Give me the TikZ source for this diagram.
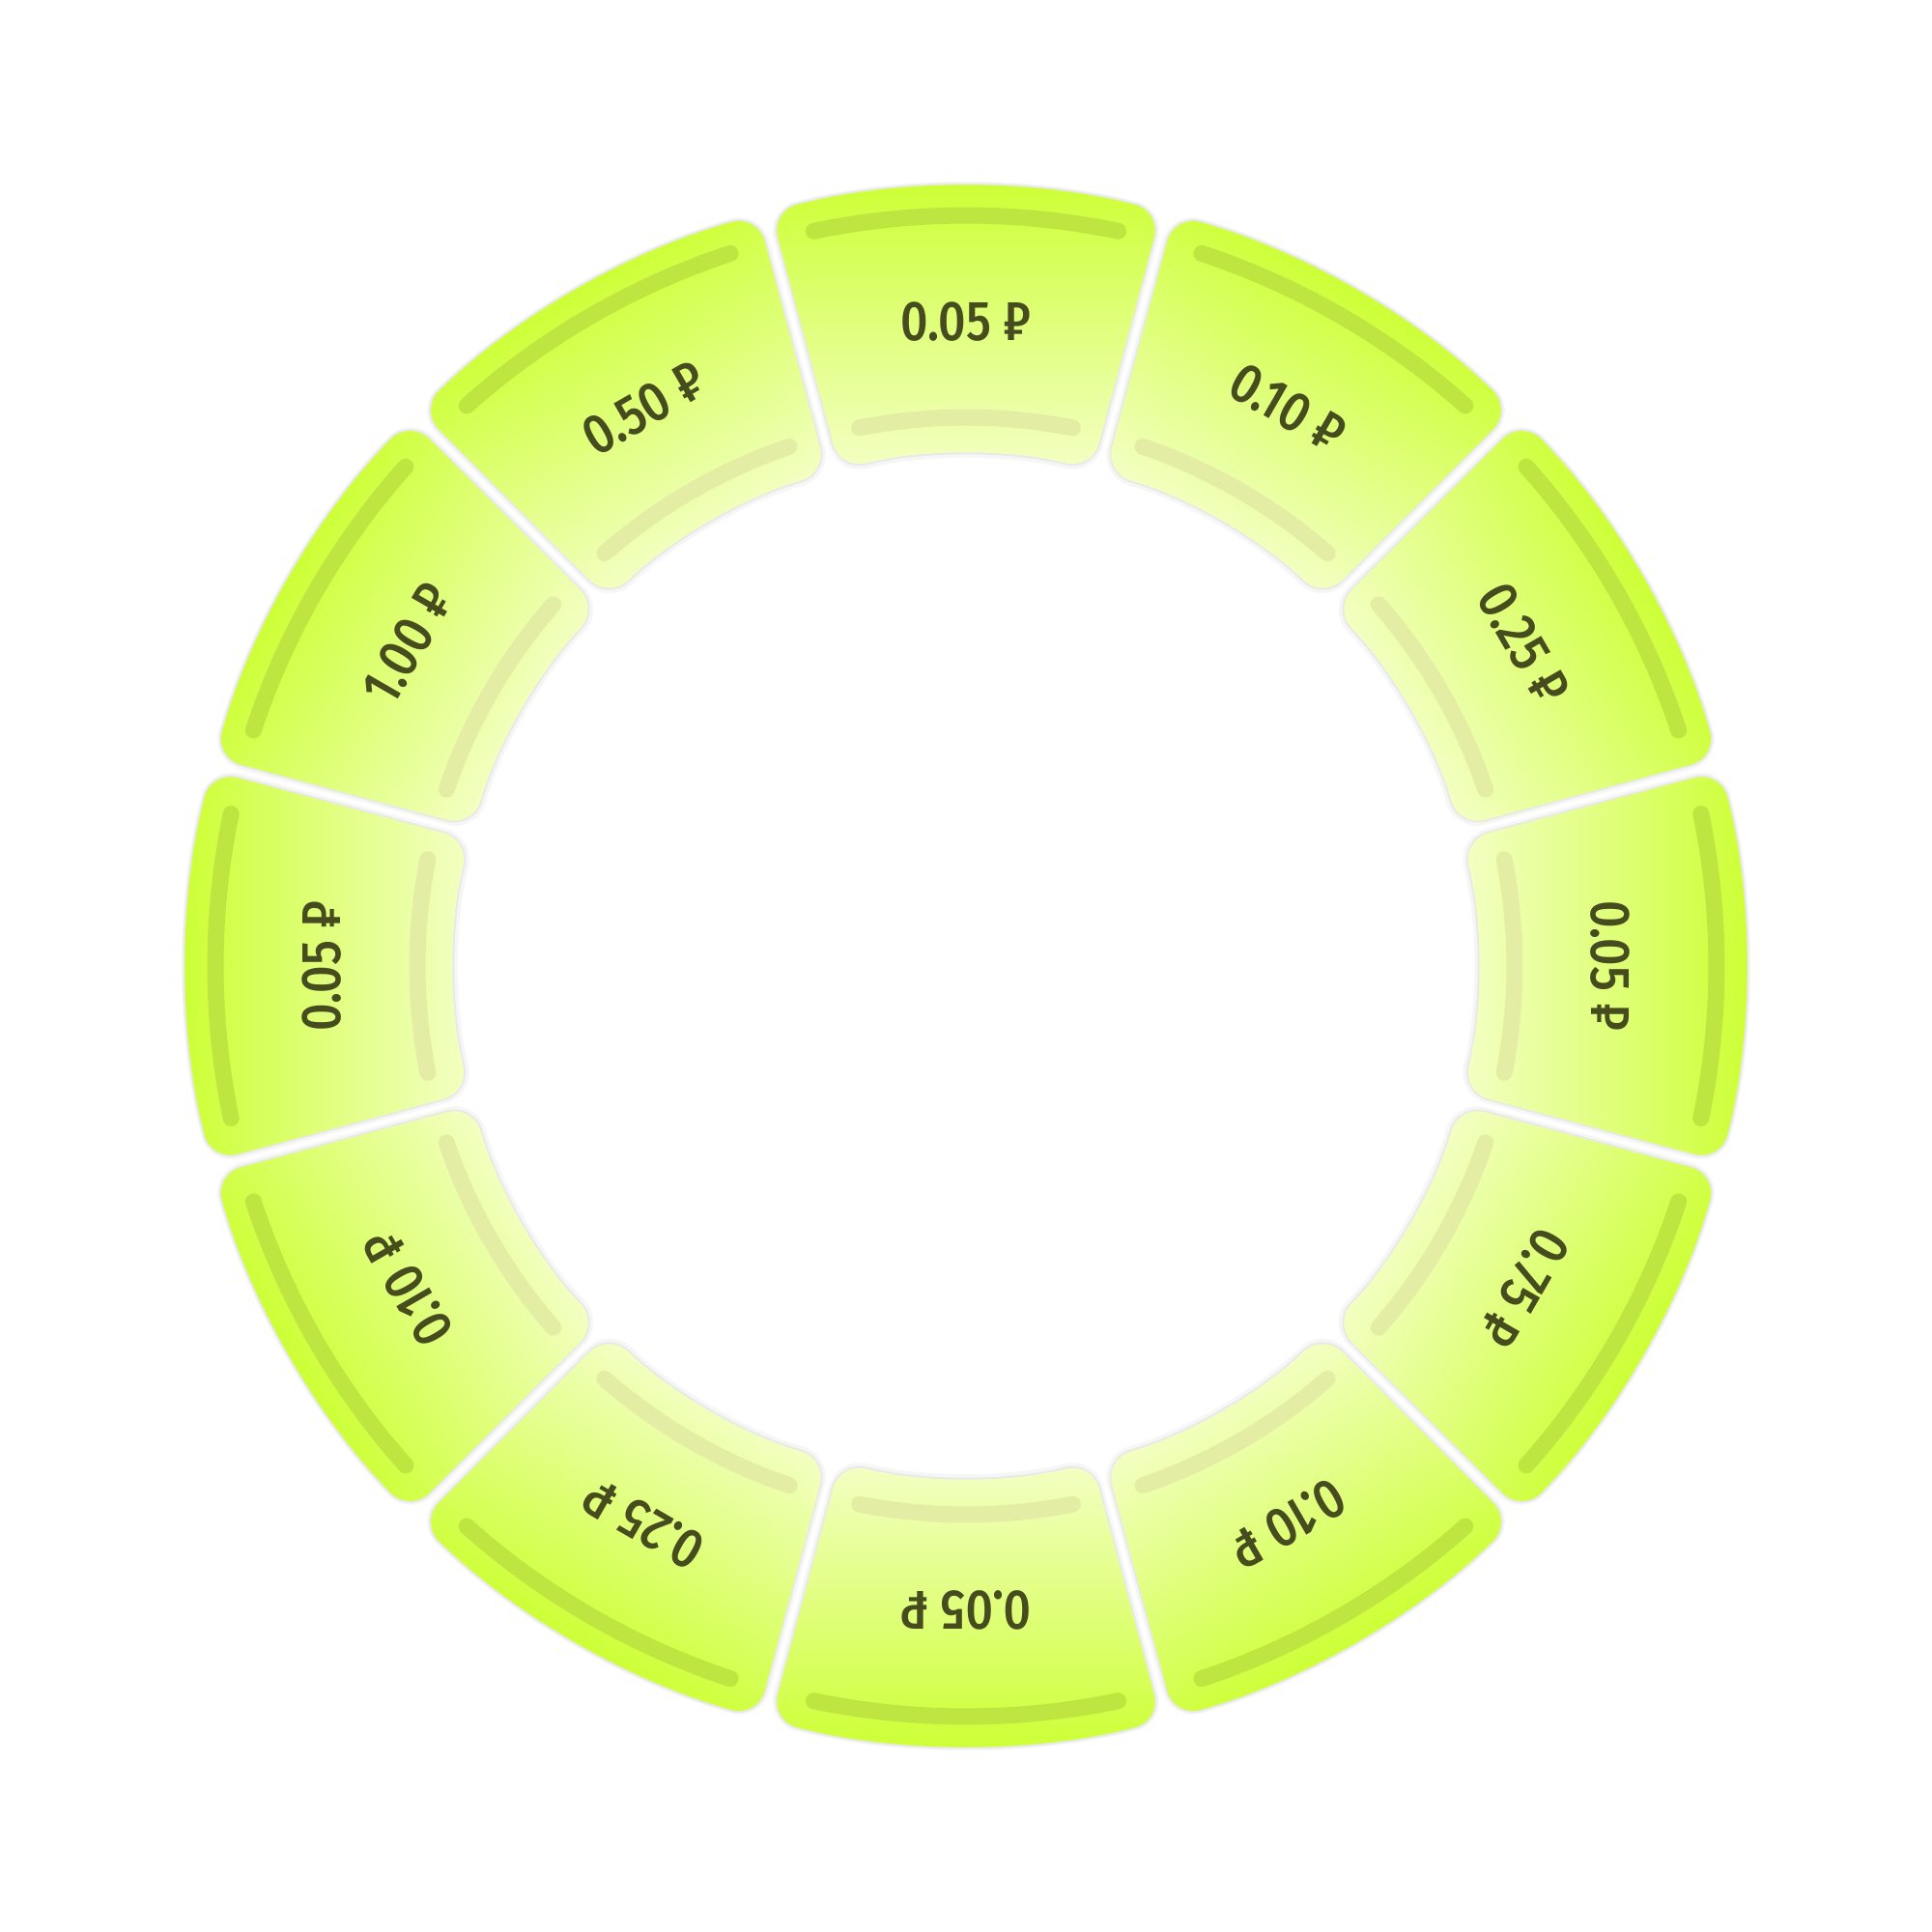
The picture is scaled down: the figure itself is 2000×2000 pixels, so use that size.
\documentclass[tikz,border=0pt]{standalone}
\usepackage{fontspec}
\newfontfamily\labfont{Fira Sans}[UprightFont={* Medium}, FakeStretch=0.86]
\definecolor{segout}{HTML}{CCFF33}
\definecolor{segmid}{HTML}{DEFF6C}
\definecolor{segin}{HTML}{F3FFC4}
\definecolor{stripeout}{HTML}{BEE540}
\definecolor{stripein}{HTML}{E3EDA3}
\definecolor{labtext}{HTML}{464C1E}
\def\segshape{(104.5:807) arc[start angle=104.5, end angle=75.5, radius=807] -- (75.76:530) arc[start angle=75.76, end angle=104.24, radius=530] -- cycle}
\tikzset{
  segshadow/.style={rounded corners=28, draw=black, line width=9, opacity=0.035},
  segshadowb/.style={rounded corners=28, draw=black, line width=4, opacity=0.05},
  segfill/.style={rounded corners=28, top color=segout, middle color=segmid, bottom color=segin},
  outstripe/.style={draw=stripeout, line width=17, line cap=round},
  instripe/.style={draw=stripein, line width=17, line cap=round},
  labstyle/.style={text=labtext, font=\labfont\fontsize{58}{60}\selectfont, inner sep=0pt}
}
\begin{document}
\begin{tikzpicture}[x=1pt,y=1pt]
\useasboundingbox[fill=white] (-1000,-1000) rectangle (1000,1000);
\foreach \ang/\lab [count=\i] in {90/0.05,60/0.10,30/0.25,0/0.05,-30/0.75,-60/0.10,-90/0.05,-120/0.25,-150/0.10,180/0.05,150/1.00,120/0.50}{
  \begin{scope}[transform canvas={rotate=\ang-90}]
    \draw[segshadow] [yshift=-1] \segshape;
    \draw[segshadowb] \segshape;
    \shade[segfill] \segshape;
    \draw[outstripe] (101.7:777) arc[start angle=101.7, end angle=78.3, radius=777];
    \draw[instripe] (101.2:568) arc[start angle=101.2, end angle=78.8, radius=568];
    \node[labstyle] (lab\i) at (0,667) {\lab{} ₽};
  \end{scope}
}
\end{tikzpicture}
\end{document}
